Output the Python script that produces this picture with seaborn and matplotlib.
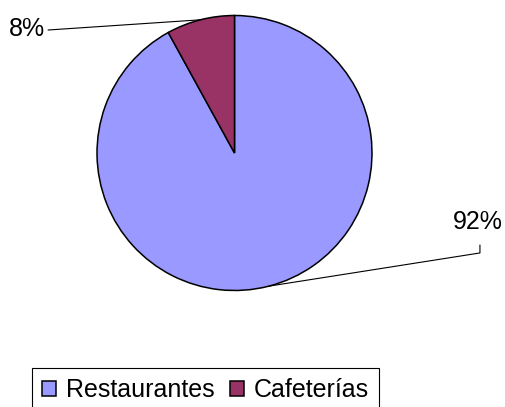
import numpy as np
import seaborn as sns
import matplotlib.pyplot as plt

# Datos
categorias = ['Restaurantes', 'Cafeterías']
valores = [92, 8]
etiquetas = ['92%', '8%']
colores = ['#9999FF', '#993366']

sns.set_style('white')
plt.rcParams['font.family'] = ['Liberation Sans', 'DejaVu Sans']
plt.rcParams['text.color'] = 'black'

fig = plt.figure(figsize=(5.06, 4.07), dpi=100)
ax = fig.add_axes([0, 0, 1, 1])

# Gráfico de pastel, sentido horario desde las 12
wedges, _ = ax.pie(valores, colors=colores, startangle=90, counterclock=False,
                   wedgeprops=dict(edgecolor='black', linewidth=1.1))

ax.set_xlim(-1.7055, 1.9745)
ax.set_ylim(-1.8473, 1.1127)
ax.axis('off')

# Etiquetas con líneas guía
pos_texto = {'92%': (1.771, -0.502), '8%': (-1.509, 0.902)}
guia = {'92%': [(1.785, -0.669), (1.785, -0.727)], '8%': [(-1.356, 0.8945)]}
for w, et in zip(wedges, etiquetas):
    ang = np.deg2rad((w.theta1 + w.theta2) / 2)
    borde = (np.cos(ang), np.sin(ang))
    puntos = guia[et] + [borde]
    xs, ys = zip(*puntos)
    ax.plot(xs, ys, color='black', lw=0.8)
    ax.text(*pos_texto[et], et, ha='center', va='center', fontsize=18,
            color='black')

# Leyenda
leg = fig.legend(wedges, categorias, loc='upper left', ncol=2,
                 bbox_to_anchor=(32 / 506, 1 - 368 / 407), borderaxespad=0,
                 fontsize=18, frameon=True, fancybox=False, shadow=False,
                 handlelength=0.56, handleheight=0.56, handletextpad=0.4,
                 columnspacing=0.6, borderpad=0.4, labelcolor='black')
leg.get_frame().set_edgecolor('black')
leg.get_frame().set_linewidth(0.8)
leg.get_frame().set_alpha(1)

fig.savefig('out.png', dpi=100)
